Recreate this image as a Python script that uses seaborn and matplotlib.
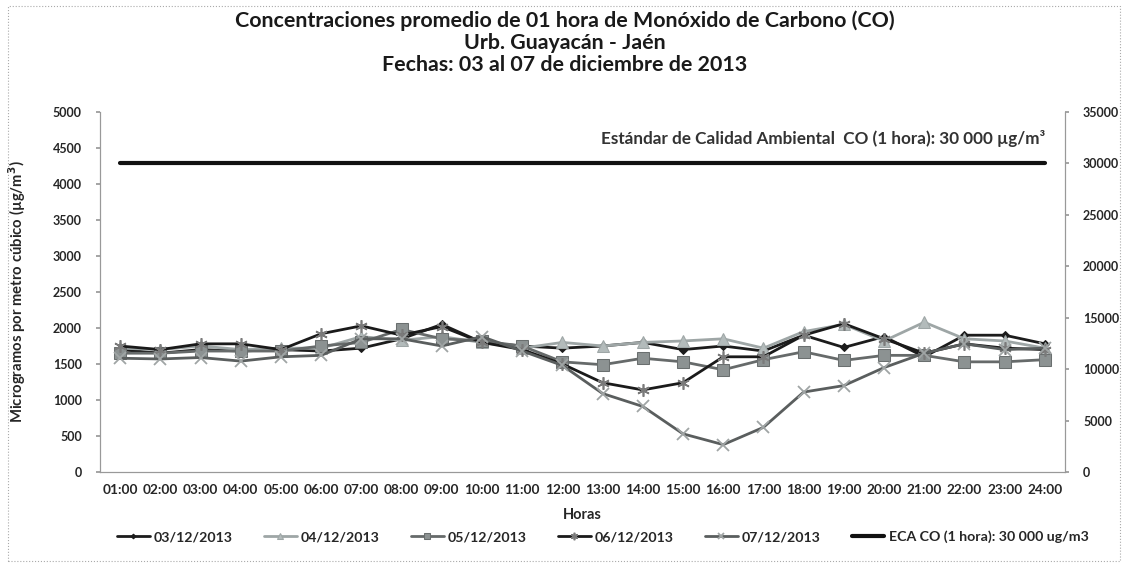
import matplotlib
matplotlib.use("Agg")
import matplotlib.pyplot as plt
import seaborn as sns
import pandas as pd
import numpy as np
from matplotlib.patches import Rectangle

hours = [f"{h:02d}:00" for h in range(1, 25)]

s_0312 = [1700, 1650, 1700, 1680, 1700, 1680, 1720, 1850, 2050, 1800, 1750, 1720,
          1750, 1800, 1700, 1750, 1680, 1900, 1730, 1880, 1600, 1900, 1900, 1780]
s_0412 = [1720, 1700, 1750, 1700, 1720, 1720, 1880, 1830, 1880, 1800, 1720, 1800,
          1750, 1800, 1820, 1850, 1720, 1950, 2050, 1820, 2080, 1850, 1820, 1720]
s_0512 = [1650, 1650, 1680, 1680, 1680, 1750, 1800, 1980, 1850, 1820, 1750, 1530,
          1490, 1580, 1530, 1420, 1560, 1670, 1550, 1620, 1620, 1530, 1530, 1560]
s_0612 = [1750, 1700, 1780, 1780, 1700, 1920, 2030, 1900, 2020, 1800, 1700, 1500,
          1240, 1140, 1240, 1600, 1600, 1900, 2060, 1850, 1650, 1780, 1720, 1700]
s_0712 = [1580, 1570, 1590, 1540, 1600, 1620, 1850, 1850, 1750, 1880, 1680, 1480,
          1090, 910, 530, 380, 620, 1110, 1200, 1450, 1650, 1780, 1700, 1720]
eca = [30000] * 24

labels = ["03/12/2013", "04/12/2013", "05/12/2013", "06/12/2013", "07/12/2013"]
eca_label = "ECA CO (1 hora): 30 000 ug/m3"

sns.set_theme(style="white")
plt.rcParams['font.family'] = ['Lato', 'DejaVu Sans']

fig = plt.figure(figsize=(11.29, 5.65), dpi=100)
ax = fig.add_axes([100/1129, 1-472/565, 965/1129, 360/565])
ax2 = ax.twinx()

x = np.arange(len(hours))
styles = [
    dict(color="#1c1c1c", marker="D", markersize=4, mfc="#1c1c1c", mec="#1c1c1c", lw=2.0),
    dict(color="#9ea6a6", marker="^", markersize=8, mfc="#b3bbbb", mec="#9ea6a6", lw=2.0),
    dict(color="#666a6a", marker="s", markersize=8, mfc="#8c9292", mec="#6a6f6f", lw=2.0),
    dict(color="#1a1a1a", marker=(6, 2, 0), markersize=9, mfc="#7a7a7a", mec="#7a7a7a", mew=1.2, lw=2.0),
    dict(color="#5a5e5e", marker="x", markersize=8, mfc="#a0a5a5", mec="#a0a5a5", mew=1.3, lw=2.0),
]
series = [s_0312, s_0412, s_0512, s_0612, s_0712]
handles = []
for s, lab, st in zip(series, labels, styles):
    df = pd.DataFrame({"x": x, "y": s})
    sns.lineplot(data=df, x="x", y="y", ax=ax, label=lab, legend=False, **st)
    handles.append(ax.get_lines()[-1])

df_eca = pd.DataFrame({"x": x, "y": eca})
sns.lineplot(data=df_eca, x="x", y="y", ax=ax2, color="#111111", lw=3.0, legend=False)
handles.append(ax2.get_lines()[-1])

ax.set_xlim(-0.5, len(hours) - 0.5)
ax.set_ylim(0, 5000)
ax.set_yticks(range(0, 5001, 500))
ax2.set_ylim(0, 35000)
ax2.set_yticks(range(0, 35001, 5000))
ax.set_xticks(x)
ax.set_xticklabels(hours, fontsize=9.8, fontweight="bold")
for t in ax.get_yticklabels():
    t.set_fontsize(9); t.set_fontweight("bold")
for t in ax2.get_yticklabels():
    t.set_fontsize(9); t.set_fontweight("bold")

ax.set_xlabel("Horas", fontsize=10.5, fontweight="bold", labelpad=8)
ax.set_ylabel("Microgramos por metro cúbico (µg/m$^\\mathbf{3}$)", fontsize=10.7, fontweight="bold", labelpad=18)
ax2.set_ylabel("")

for a in (ax, ax2):
    for sp in a.spines.values():
        sp.set_color("#999999"); sp.set_linewidth(0.8)
    a.spines["top"].set_visible(False)
    a.tick_params(axis="both", length=3, color="#999999", direction="out", pad=4)
ax.tick_params(axis="x", length=3, pad=6)
ax.tick_params(axis="y", pad=10)
ax2.tick_params(axis="y", pad=10)
ax.grid(False); ax2.grid(False)

ax2.text(23, 32450, "Estándar de Calidad Ambiental  CO (1 hora): 30 000 µg/m³",
         ha="right", va="center", fontsize=12.3, fontweight="bold", color="#333333")

for i, t in enumerate(["Concentraciones promedio de 01 hora de Monóxido de Carbono (CO)",
                       "Urb. Guayacán - Jaén",
                       "Fechas: 03 al 07 de diciembre de 2013"]):
    fig.text(0.5, 1-(21 + 22*i)/565, t, ha="center", va="center",
             fontsize=15.4, fontweight="bold", color="#1a1a1a")

fig.legend(handles, labels + [eca_label], loc="center", bbox_to_anchor=(0.534, 1-537/565),
           ncol=6, frameon=False, prop=dict(size=10.2, weight="bold"), handlelength=2.3,
           columnspacing=2.2, handletextpad=0.3, markerscale=0.6)

fig.patches.append(Rectangle((8/1129, 4/565), 1112/1129, 555/565, transform=fig.transFigure,
                             fill=False, edgecolor="#aaaaaa", lw=0.8, ls=":"))

fig.savefig("out.png", dpi=100)
